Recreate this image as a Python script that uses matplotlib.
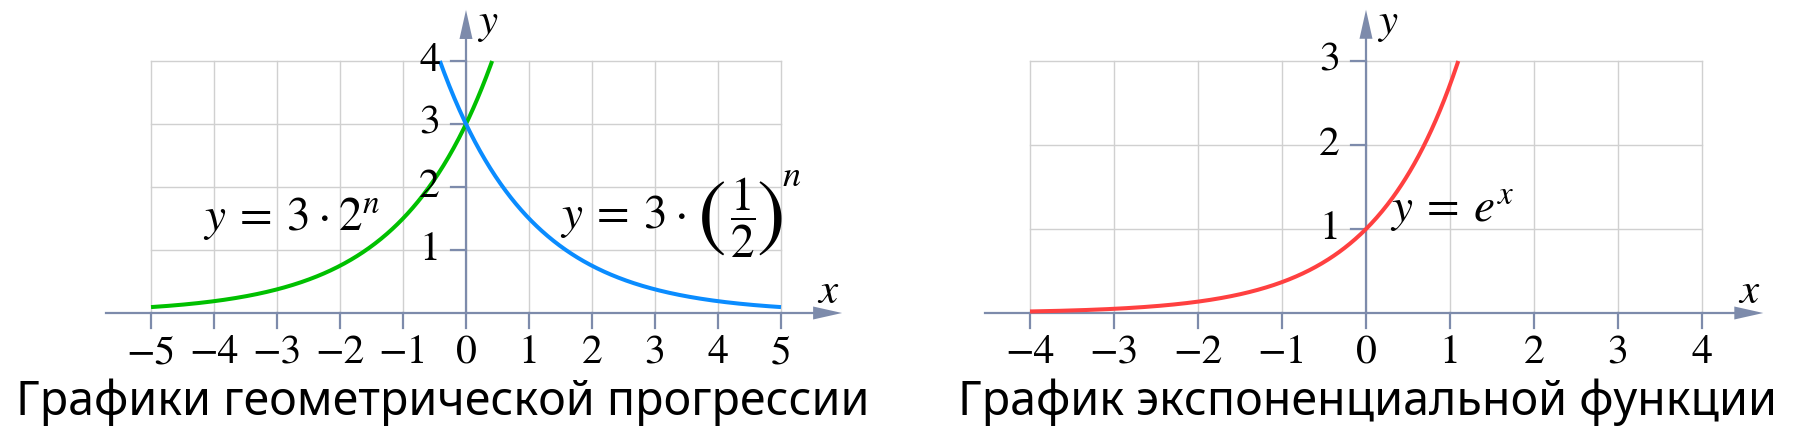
import numpy as np
import matplotlib.pyplot as plt
from matplotlib.patches import Polygon

plt.rcParams['mathtext.fontset'] = 'stix'

# --- data ---
geo_xrange = [-5, 5]
geo_a = 3
geo_ratios = [2, 0.5]
geo_colors = ['#00c000', '#0a8cff']
geo_xticks = [-5, -4, -3, -2, -1, 0, 1, 2, 3, 4, 5]
geo_yticks = [1, 2, 3, 4]

exp_xrange = [-4, 4]
exp_yticks = [1, 2, 3]
exp_xticks = [-4, -3, -2, -1, 0, 1, 2, 3, 4]
exp_color = '#ff4040'

titles = ['Графики геометрической прогрессии', 'График экспоненциальной функции']

AXC = '#7d8bab'
GRIDC = '#d0d0d0'
W, H = 1800, 430
TICKFS = 30

fig = plt.figure(figsize=(W / 100, H / 100), dpi=100)


def make_ax(left_px, width_px, x0_px, y0_px, unit):
    ax = fig.add_axes([left_px / W, 0, width_px / W, 1])
    ax.set_xlim((left_px - x0_px) / unit, (left_px + width_px - x0_px) / unit)
    ax.set_ylim((y0_px - H) / unit, y0_px / unit)
    ax.axis('off')
    return ax


def frame(ax, unit, xticks, yticks, xlo, xhi, ytop, title, title_x):
    x0, x1 = xticks[0], xticks[-1]
    y1 = yticks[-1]
    # grid
    for t in xticks:
        ax.plot([t, t], [0, y1], color=GRIDC, lw=1.0, zorder=1)
    for t in yticks:
        ax.plot([x0, x1], [t, t], color=GRIDC, lw=1.0, zorder=1)
    # axes with arrow heads
    hl, hw = 29 / unit, 6.5 / unit
    ax.plot([xlo, xhi - hl], [0, 0], color=AXC, lw=1.6, zorder=2)
    ax.add_patch(Polygon([[xhi, 0], [xhi - hl, hw], [xhi - hl, -hw]],
                         closed=True, color=AXC, lw=0, zorder=2))
    ax.plot([0, 0], [0, ytop - hl], color=AXC, lw=1.6, zorder=2)
    ax.add_patch(Polygon([[0, ytop], [hw, ytop - hl], [-hw, ytop - hl]],
                         closed=True, color=AXC, lw=0, zorder=2))
    # ticks and labels
    tl = 15 / unit
    for t in xticks:
        ax.plot([t, t], [0, -tl], color=AXC, lw=1.6, zorder=2)
        s = str(t).replace('-', '\u2212')
        ax.text(t, -50 / unit, s, ha='center', va='baseline',
                fontsize=TICKFS, family='STIXGeneral', zorder=4)
    for t in yticks:
        ax.plot([-tl, 0], [t, t], color=AXC, lw=1.6, zorder=2)
        ax.text(-26 / unit, t, str(t), ha='right', va='center',
                fontsize=TICKFS, family='STIXGeneral', zorder=4)
    ax.text(22 / unit, ytop - 13 / unit, '$y$', ha='center', va='center', fontsize=31)
    ax.text(xhi - 14 / unit, 22 / unit, '$x$', ha='center', va='center', fontsize=31)
    ax.text(title_x, -102 / unit, title, ha='center', va='baseline',
            fontsize=33.5, family='Noto Sans')


# left panel: geometric progressions
U1 = 63
axl = make_ax(0, 900, 466, 313, U1)
frame(axl, U1, geo_xticks, geo_yticks, -5.71, 5.97, 4.81,
      titles[0], (443 - 466) / U1)
ymax = geo_yticks[-1]
for q, c in zip(geo_ratios, geo_colors):
    xc = np.log(ymax / geo_a) / np.log(q)
    if q > 1:
        xs = np.linspace(geo_xrange[0], xc, 400)
    else:
        xs = np.linspace(xc, geo_xrange[1], 400)
    axl.plot(xs, geo_a * q ** xs, color=c, lw=2.9, zorder=3,
             solid_capstyle='butt')


def px(ax_x0, unit, x, y):
    # pixel offsets relative to the origin -> data coordinates
    return (x - ax_x0) / unit, (313 - y) / unit


# y = 3 * 2^n
axl.text(*px(466, U1, 203, 230), r'$y\:=\:3\:\cdot\:2^{n}$',
         ha='left', va='baseline', fontsize=34, zorder=4)
# y = 3 * (1/2)^n, built from pieces to get tall parentheses
axl.text(*px(466, U1, 560, 228), r'$y\:=\:3\:\cdot$',
         ha='left', va='baseline', fontsize=34, zorder=4)
axl.text(*px(466, U1, 712, 220), '(', ha='center', va='center',
         fontsize=62, family='STIXGeneral', zorder=4)
axl.text(*px(466, U1, 771, 220), ')', ha='center', va='center',
         fontsize=62, family='STIXGeneral', zorder=4)
axl.text(*px(466, U1, 743, 218), r'$\dfrac{1}{2}$', ha='center', va='center',
         fontsize=34, zorder=4)
axl.text(*px(466, U1, 792, 176), r'$n$', ha='center', va='center',
         fontsize=26, zorder=4)

# right panel: exponential function
U2 = 84
axr = make_ax(900, 900, 1366, 313, U2)
frame(axr, U2, exp_xticks, exp_yticks, -4.54, 4.73, 3.61,
      titles[1], (1367 - 1366) / U2)
xs = np.linspace(exp_xrange[0], np.log(exp_yticks[-1]), 400)
axr.plot(xs, np.exp(xs), color=exp_color, lw=2.9, zorder=3, solid_capstyle='butt')
axr.text(*px(1366, U2, 1390, 223), r'$y\:=\:e^{x}$', ha='left', va='baseline',
         fontsize=34, zorder=4)

fig.savefig('out.png', dpi=100)
